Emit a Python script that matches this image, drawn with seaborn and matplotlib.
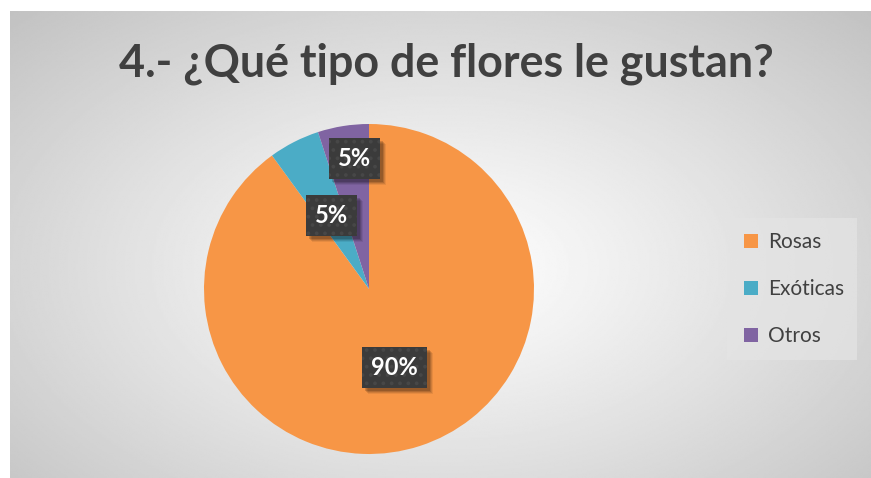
import numpy as np
import matplotlib
matplotlib.use("Agg")
import matplotlib.pyplot as plt
from matplotlib.lines import Line2D
from matplotlib.patches import Rectangle
from matplotlib.transforms import IdentityTransform
import seaborn as sns

# Data
categories = ["Rosas", "Exóticas", "Otros"]
values = [90, 5, 5]
title = "4.- ¿Qué tipo de flores le gustan?"

sns.set_theme(style="white")
plt.rcParams['font.family'] = ['Lato', 'DejaVu Sans']
plt.rcParams['hatch.linewidth'] = 1.5

colors = ["#F79646", "#4BACC6", "#8064A2"]

W, H = 871, 478
fig = plt.figure(figsize=(W / 100, H / 100), dpi=100)
fig.patch.set_facecolor("white")

# Radial gradient background (chart area)
bg = fig.add_axes([10 / W, 0, (W - 10) / W, (H - 11) / H])
yy, xx = np.mgrid[0:1:300j, 0:1:500j]
d = np.sqrt(((xx - 0.5) / 0.5) ** 2 + ((yy - 0.45) / 0.55) ** 2) / np.sqrt(2)
grad = 1.0 - 0.24 * np.clip(d, 0, 1) ** 1.1
bg.imshow(grad, cmap="gray", vmin=0, vmax=1, aspect="auto",
          extent=[0, 1, 0, 1], origin="lower", interpolation="bilinear")
bg.set_axis_off()

fig.text(446 / W, 1 - 64 / H, title, ha="center", va="center",
         fontsize=32.3, fontweight="bold", color="#404040")

# Pie
cx, cy, r = 369, 289, 165
ax = fig.add_axes([(cx - r) / W, (H - cy - r) / H, 2 * r / W, 2 * r / H])
wedges, texts, autotexts = ax.pie(
    values, colors=colors, startangle=90, counterclock=False,
    autopct=lambda p: f"{p:.0f}%", pctdistance=0.5,
    wedgeprops=dict(linewidth=0),
    textprops=dict(color="white", fontsize=17, fontweight="bold"))
ax.set_xlim(-1, 1)
ax.set_ylim(-1, 1)
ax.set_aspect("equal")

# Excel-like best-fit: "Otros" label sits further out
x, y = autotexts[2].get_position()
ang = np.arctan2(y, x)
autotexts[2].set_position((0.8 * np.cos(ang) + 0.04, 0.8 * np.sin(ang)))

for t in autotexts:
    t.set_zorder(5)
    t.set_bbox(dict(boxstyle="square,pad=0.38", facecolor="#3b3b3b",
                    edgecolor="#474747", hatch="..", linewidth=0))

# soft drop shadow behind each label box
fig.canvas.draw()
renderer = fig.canvas.get_renderer()
for t in autotexts:
    bb = t.get_bbox_patch().get_window_extent(renderer)
    for k, a in [(6, 0.07), (5, 0.10), (4, 0.13), (3, 0.16)]:
        ax.add_patch(Rectangle((bb.x0 + k, bb.y0 - k), bb.width, bb.height,
                               transform=IdentityTransform(), facecolor="black",
                               alpha=a, linewidth=0, zorder=4))

# Legend
handles = [Line2D([0], [0], marker="s", linestyle="none", markersize=10,
                  markerfacecolor=c, markeredgewidth=0) for c in colors]
leg = fig.legend(handles, categories, loc="center left",
                 bbox_to_anchor=(727 / W, 1 - 289 / H), frameon=True,
                 borderaxespad=0, fontsize=15, labelspacing=1.3,
                 handletextpad=0.3, borderpad=0.65, handlelength=1.0,
                 fancybox=False)
leg.get_frame().set_facecolor("#e4e4e4")
leg.get_frame().set_alpha(0.7)
leg.get_frame().set_linewidth(0)
for t in leg.get_texts():
    t.set_color("#404040")

fig.savefig("out.png", dpi=100)
